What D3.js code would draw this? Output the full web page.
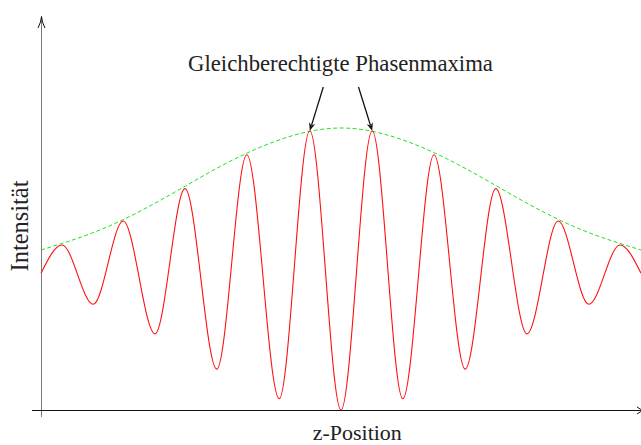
<!DOCTYPE html>
<html>
<head>
<meta charset="utf-8">
<script src="https://cdn.jsdelivr.net/npm/d3@7/dist/d3.min.js"></script>
<style>
  html, body { margin: 0; padding: 0; background: #fff; }
  svg { display: block; }
  text { font-family: "Liberation Serif", "DejaVu Serif", serif; fill: #222; }
</style>
</head>
<body>
<script>
// ---- data ----
// red interference signal: edge points and local extrema (z in a.u., intensity in a.u.)
const signalZ = [0, 0.35, 0.87, 1.37, 1.90, 2.40, 2.93, 3.43, 3.97, 4.48, 5.00,
                 5.52, 6.03, 6.55, 7.07, 7.58, 8.10, 8.62, 9.13, 9.65, 10];
const signalI = [0.97, 1.17, 0.75, 1.34, 0.54, 1.57, 0.29, 1.81, 0.08, 1.98, 0.00,
                 1.98, 0.08, 1.81, 0.29, 1.57, 0.54, 1.34, 0.75, 1.17, 0.97];
// green dashed envelope samples
const envelopeZ = [0, 1, 2, 3, 4, 5, 6, 7, 8, 9, 10];
const envelopeI = [1.135, 1.28, 1.49, 1.73, 1.92, 2.0, 1.92, 1.73, 1.49, 1.28, 1.135];
// annotated maxima (indices into signal arrays)
const annotatedMaxima = [9, 11];
const titleText = "Gleichberechtigte Phasenmaxima";
const xLabel = "z-Position";
const yLabel = "Intensität";

// ---- drawing ----
const W = 641, H = 445;
const svg = d3.select("body").append("svg").attr("width", W).attr("height", H);

const x = d3.scaleLinear().domain([0, 10]).range([41, 641]);
const y = d3.scaleLinear().domain([0, 2]).range([410, 128]);

// axes
const x0 = x.range()[0], yb = y.range()[0];
svg.append("line").attr("x1", x0 + 0.5).attr("x2", x0 + 0.5)
  .attr("y1", yb + 7).attr("y2", 17)
  .attr("stroke", "#7a7a7a").attr("stroke-width", 1);
svg.append("path")
  .attr("d", `M${x0 - 3},${28} Q${x0 + 0.2},${22} ${x0 + 0.5},${16.5} Q${x0 + 0.8},${22} ${x0 + 4},${28}`)
  .attr("fill", "none").attr("stroke", "#111").attr("stroke-width", 1);

svg.append("line").attr("x1", x0 - 9).attr("x2", W + 5)
  .attr("y1", yb + 0.5).attr("y2", yb + 0.5)
  .attr("stroke", "#111").attr("stroke-width", 1.1);
svg.append("path")
  .attr("d", `M${637},${yb - 3} Q${641},${yb} ${644},${yb + 0.5} Q${641},${yb + 1} ${637},${yb + 4}`)
  .attr("fill", "none").attr("stroke", "#111").attr("stroke-width", 1);

// envelope
const envData = envelopeZ.map((z, i) => ({ z, v: envelopeI[i] }));
svg.append("path").datum(envData)
  .attr("d", d3.line().x(d => x(d.z)).y(d => y(d.v)).curve(d3.curveNatural))
  .attr("fill", "none").attr("stroke", "#22e022").attr("stroke-width", 1)
  .attr("stroke-dasharray", "4,2.5");

// signal
const sigData = signalZ.map((z, i) => ({ z, v: signalI[i] }));
svg.append("path").datum(sigData)
  .attr("d", d3.line().x(d => x(d.z)).y(d => y(d.v)).curve(d3.curveMonotoneX))
  .attr("fill", "none").attr("stroke", "#ff1010").attr("stroke-width", 1.1);

// annotation
const starts = [[323.3, 87], [358.5, 87]];
annotatedMaxima.forEach((idx, k) => {
  const tx = x(signalZ[idx]), ty = y(signalI[idx]);
  const [sx, sy] = starts[k];
  const ang = Math.atan2(ty - sy, tx - sx);
  const L = 8, wdt = 3.2;
  const bx = tx - L * Math.cos(ang), by = ty - L * Math.sin(ang);
  const px = -Math.sin(ang), py = Math.cos(ang);
  svg.append("line").attr("x1", sx).attr("y1", sy).attr("x2", bx + 2 * Math.cos(ang)).attr("y2", by + 2 * Math.sin(ang))
    .attr("stroke", "#111").attr("stroke-width", 1.3);
  const mx = tx - (L - 2.5) * Math.cos(ang), my = ty - (L - 2.5) * Math.sin(ang);
  svg.append("path")
    .attr("d", `M${tx},${ty} L${bx + px * wdt},${by + py * wdt} L${mx},${my} L${bx - px * wdt},${by - py * wdt} Z`)
    .attr("fill", "#111").attr("stroke", "none");
});

function fitText(sel, targetWidth) {
  let fs = 20;
  sel.style("font-size", fs + "px");
  const w = sel.node().getComputedTextLength();
  fs = fs * targetWidth / w;
  sel.style("font-size", fs + "px");
}

const t = svg.append("text").attr("x", 340.5).attr("y", 71).attr("text-anchor", "middle").text(titleText);
fitText(t, 305);

const xl = svg.append("text").attr("x", 357.3).attr("y", 440).attr("text-anchor", "middle").text(xLabel);
fitText(xl, 89);

const yl = svg.append("text").attr("text-anchor", "middle")
  .attr("transform", "translate(28.3,226) rotate(-90)").text(yLabel);
fitText(yl, 91);
</script>
</body>
</html>
